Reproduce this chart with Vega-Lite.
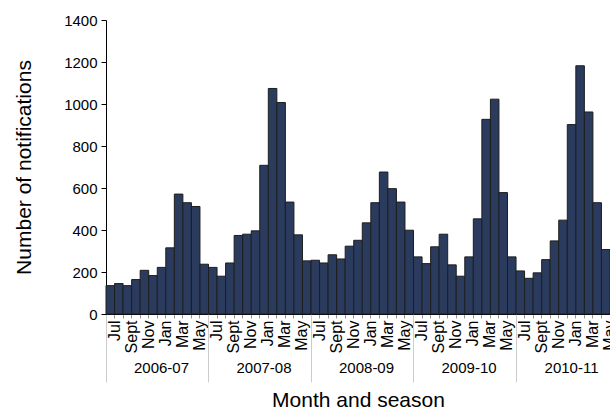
{
  "$schema": "https://vega.github.io/schema/vega-lite/v6.json",
  "width": 504,
  "height": 294,
  "autosize": {"type": "none"},
  "padding": {"left": 106, "top": 20, "right": 0, "bottom": 96},
  "config": {
    "view": {"stroke": null},
    "font": "Liberation Sans",
    "axis": {"labelFont": "Liberation Sans", "titleFont": "Liberation Sans", "labelColor": "#000", "titleColor": "#000", "titleFontWeight": "normal", "grid": false}
  },
  "data": {
    "values": [
      {"k": "2006-07|Jul", "n": 135}, {"k": "2006-07|Aug", "n": 145}, {"k": "2006-07|Sept", "n": 135}, {"k": "2006-07|Oct", "n": 164},
      {"k": "2006-07|Nov", "n": 208}, {"k": "2006-07|Dec", "n": 183}, {"k": "2006-07|Jan", "n": 222}, {"k": "2006-07|Feb", "n": 315},
      {"k": "2006-07|Mar", "n": 571}, {"k": "2006-07|Apr", "n": 530}, {"k": "2006-07|May", "n": 512}, {"k": "2006-07|Jun", "n": 237},
      {"k": "2007-08|Jul", "n": 222}, {"k": "2007-08|Aug", "n": 180}, {"k": "2007-08|Sept", "n": 243}, {"k": "2007-08|Oct", "n": 374},
      {"k": "2007-08|Nov", "n": 380}, {"k": "2007-08|Dec", "n": 396}, {"k": "2007-08|Jan", "n": 708}, {"k": "2007-08|Feb", "n": 1074},
      {"k": "2007-08|Mar", "n": 1007}, {"k": "2007-08|Apr", "n": 533}, {"k": "2007-08|May", "n": 377}, {"k": "2007-08|Jun", "n": 253},
      {"k": "2008-09|Jul", "n": 256}, {"k": "2008-09|Aug", "n": 243}, {"k": "2008-09|Sept", "n": 282}, {"k": "2008-09|Oct", "n": 262},
      {"k": "2008-09|Nov", "n": 323}, {"k": "2008-09|Dec", "n": 351}, {"k": "2008-09|Jan", "n": 434}, {"k": "2008-09|Feb", "n": 530},
      {"k": "2008-09|Mar", "n": 676}, {"k": "2008-09|Apr", "n": 597}, {"k": "2008-09|May", "n": 533}, {"k": "2008-09|Jun", "n": 399},
      {"k": "2009-10|Jul", "n": 272}, {"k": "2009-10|Aug", "n": 240}, {"k": "2009-10|Sept", "n": 320}, {"k": "2009-10|Oct", "n": 380},
      {"k": "2009-10|Nov", "n": 234}, {"k": "2009-10|Dec", "n": 180}, {"k": "2009-10|Jan", "n": 272}, {"k": "2009-10|Feb", "n": 453},
      {"k": "2009-10|Mar", "n": 927}, {"k": "2009-10|Apr", "n": 1023}, {"k": "2009-10|May", "n": 578}, {"k": "2009-10|Jun", "n": 272},
      {"k": "2010-11|Jul", "n": 205}, {"k": "2010-11|Aug", "n": 170}, {"k": "2010-11|Sept", "n": 196}, {"k": "2010-11|Oct", "n": 259},
      {"k": "2010-11|Nov", "n": 348}, {"k": "2010-11|Dec", "n": 447}, {"k": "2010-11|Jan", "n": 902}, {"k": "2010-11|Feb", "n": 1182},
      {"k": "2010-11|Mar", "n": 962}, {"k": "2010-11|Apr", "n": 530}, {"k": "2010-11|May", "n": 307}
    ]
  },
  "layer": [
    {
      "mark": {"type": "bar", "fill": "#2b3b5e", "stroke": "#1e1e1e", "strokeWidth": 1},
      "encoding": {
        "x": {
          "field": "k", "type": "nominal", "sort": null,
          "scale": {"type": "band", "paddingInner": 0, "paddingOuter": 0},
          "axis": {
            "orient": "bottom", "title": null, "labelAngle": -90, "labelFontSize": 16,
            "labelPadding": 2, "tickSize": 4, "tickColor": "#999999", "bandPosition": 0, "labelOffset": 4.27,
            "domainColor": "#000", "labelOverlap": false, "labelBound": false, "labelFlush": false,
            "labelExpr": "indexof(['Jul','Sept','Nov','Jan','Mar','May'], split(datum.value,'|')[1]) >= 0 ? split(datum.value,'|')[1] : ''"
          }
        },
        "y": {
          "field": "n", "type": "quantitative",
          "scale": {"domain": [0, 1400], "nice": false},
          "axis": {
            "title": "Number of notifications", "values": [0, 200, 400, 600, 800, 1000, 1200, 1400], "format": "d",
            "labelFontSize": 15, "labelPadding": 4, "titleFontSize": 21, "tickSize": 5, "tickColor": "#000", "domainColor": "#000",
            "titlePadding": 29
          }
        }
      }
    },
    {
      "mark": {"type": "rule", "opacity": 0},
      "encoding": {
        "x": {
          "field": "k", "type": "nominal", "sort": null,
          "axis": {
            "orient": "bottom", "title": "Month and season", "titleFontSize": 21, "titlePadding": 7,
            "values": ["2006-07|Jul", "2007-08|Jul", "2008-09|Jul", "2009-10|Jul", "2010-11|Jul"],
            "bandPosition": 0, "labelOffset": 51.25, "labelAngle": 0, "labelAlign": "center", "labelBaseline": "top",
            "labelFontSize": 15, "labelPadding": -22, "tickSize": 68, "tickColor": "#cccccc", "domain": false,
            "labelExpr": "split(datum.value,'|')[0]"
          }
        }
      }
    }
  ],
  "resolve": {"axis": {"x": "independent"}}
}
